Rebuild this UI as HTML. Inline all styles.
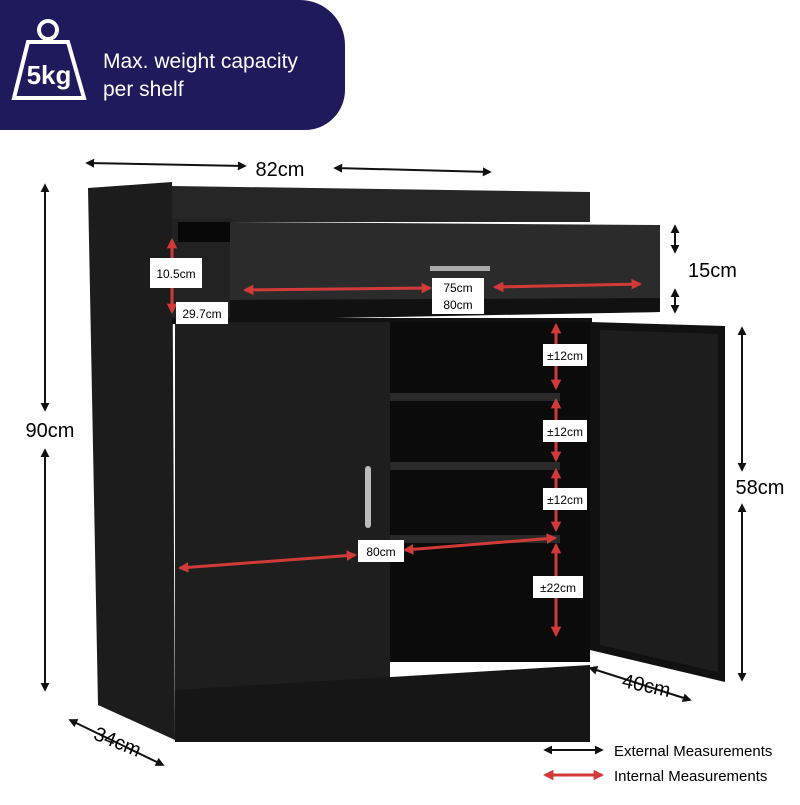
<!DOCTYPE html>
<html><head><style>
body{margin:0;background:#fff;}
svg text{font-family:"Liberation Sans",sans-serif;}
</style></head><body>
<svg width="800" height="800" viewBox="0 0 800 800" xmlns="http://www.w3.org/2000/svg">
<defs>
<marker id="ab" viewBox="0 0 10 10" refX="8" refY="5" markerWidth="4.5" markerHeight="4.5" orient="auto-start-reverse"><path d="M0,0L10,5L0,10z" fill="#111"/></marker>
<marker id="ar" viewBox="0 0 10 10" refX="8" refY="5" markerWidth="3.5" markerHeight="3.5" orient="auto-start-reverse"><path d="M0,0L10,5L0,10z" fill="#d23a3a"/></marker>
</defs>
<path d="M0,0H300A45,45 0 0 1 345,45V90A40,40 0 0 1 305,130H0z" fill="#1f1a5c"/>
<g fill="none" stroke="#fff" stroke-width="4">
<circle cx="48" cy="30" r="9"/>
<path d="M28,42H68L84,98H14z"/>
</g>
<text x="49" y="84" fill="#fff" font-size="26" font-weight="bold" text-anchor="middle">5kg</text>
<text x="103" y="68" fill="#fff" font-size="21">Max. weight capacity</text>
<text x="103" y="96" fill="#fff" font-size="21">per shelf</text>
<polygon points="88,188 172,182 175,740 98,705" fill="#1c1c1c"/>
<polygon points="172,186 590,192 590,222 172,222" fill="#262626"/>
<rect x="172" y="218" width="60" height="105" fill="#222"/>
<rect x="178" y="222" width="52" height="20" fill="#080808"/>
<polygon points="230,222 660,225 660,312 230,318" fill="#2b2b2b"/>
<polygon points="230,300 660,298 660,312 230,320" fill="#111"/>
<rect x="430" y="266" width="60" height="5" fill="#aaa"/>
<rect x="172" y="318" width="420" height="6" fill="#111"/>
<rect x="390" y="322" width="200" height="340" fill="#0b0b0b"/>
<rect x="390" y="393" width="170" height="8" fill="#2a2a2a"/>
<rect x="390" y="462" width="170" height="8" fill="#2a2a2a"/>
<rect x="390" y="535" width="170" height="8" fill="#2a2a2a"/>
<rect x="175" y="322" width="215" height="368" fill="#1e1e1e"/>
<rect x="365" y="466" width="6" height="62" rx="3" fill="#bbb"/>
<polygon points="175,690 590,665 590,742 175,742" fill="#161616"/>
<polygon points="590,322 725,326 725,682 590,650" fill="#111"/>
<polygon points="600,330 718,334 718,672 600,645" fill="#1d1d1d"/>
<g stroke="#111" stroke-width="2" fill="none" marker-start="url(#ab)" marker-end="url(#ab)">
<line x1="87" y1="163" x2="245" y2="166"/><line x1="335" y1="168" x2="490" y2="172"/>
<line x1="45" y1="185" x2="45" y2="410"/><line x1="45" y1="450" x2="45" y2="690"/>
<line x1="675" y1="226" x2="675" y2="252"/><line x1="675" y1="290" x2="675" y2="312"/>
<line x1="742" y1="328" x2="742" y2="470"/><line x1="742" y1="505" x2="742" y2="680"/>
<line x1="590" y1="668" x2="690" y2="700"/>
<line x1="70" y1="720" x2="163" y2="765"/>
</g>
<text x="280" y="176" font-size="20" text-anchor="middle">82cm</text>
<text x="50" y="437" font-size="20" text-anchor="middle">90cm</text>
<text x="688" y="277" font-size="20">15cm</text>
<text x="760" y="494" font-size="20" text-anchor="middle">58cm</text>
<text x="645" y="692" font-size="20" text-anchor="middle" transform="rotate(12 645 692)">40cm</text>
<text x="115" y="748" font-size="20" text-anchor="middle" transform="rotate(22 115 748)">34cm</text>
<g stroke="#d23a3a" stroke-width="3" fill="none" marker-start="url(#ar)" marker-end="url(#ar)">
<line x1="172" y1="240" x2="172" y2="312"/>
<line x1="245" y1="290" x2="430" y2="288"/><line x1="495" y1="287" x2="640" y2="284"/>
<line x1="180" y1="568" x2="355" y2="555"/><line x1="405" y1="550" x2="555" y2="538"/>
<line x1="556" y1="325" x2="556" y2="388"/><line x1="556" y1="400" x2="556" y2="460"/>
<line x1="556" y1="470" x2="556" y2="530"/><line x1="556" y1="545" x2="556" y2="635"/>
</g>
<g stroke="#111" stroke-width="1.5"><line x1="233" y1="305" x2="430" y2="305"/><line x1="480" y1="305" x2="645" y2="305"/></g>
<g font-size="12" text-anchor="middle">
<rect x="150" y="258" width="52" height="30" fill="#fff"/><text x="176" y="278">10.5cm</text>
<rect x="176" y="302" width="52" height="22" fill="#fff"/><text x="202" y="318">29.7cm</text>
<rect x="432" y="278" width="52" height="36" fill="#fff"/><text x="458" y="292">75cm</text><text x="458" y="309">80cm</text>
<rect x="358" y="540" width="46" height="22" fill="#fff"/><text x="381" y="556">80cm</text>
<rect x="543" y="344" width="44" height="22" fill="#fff"/><text x="565" y="360">±12cm</text>
<rect x="543" y="420" width="44" height="22" fill="#fff"/><text x="565" y="436">±12cm</text>
<rect x="543" y="488" width="44" height="22" fill="#fff"/><text x="565" y="504">±12cm</text>
<rect x="533" y="576" width="50" height="22" fill="#fff"/><text x="558" y="592">±22cm</text>
</g>
<line x1="545" y1="750" x2="602" y2="750" stroke="#111" stroke-width="2" marker-start="url(#ab)" marker-end="url(#ab)"/>
<line x1="545" y1="775" x2="602" y2="775" stroke="#d23a3a" stroke-width="3" marker-start="url(#ar)" marker-end="url(#ar)"/>
<text x="614" y="756" font-size="15">External Measurements</text>
<text x="614" y="781" font-size="15">Internal Measurements</text>
</svg>
</body></html>
